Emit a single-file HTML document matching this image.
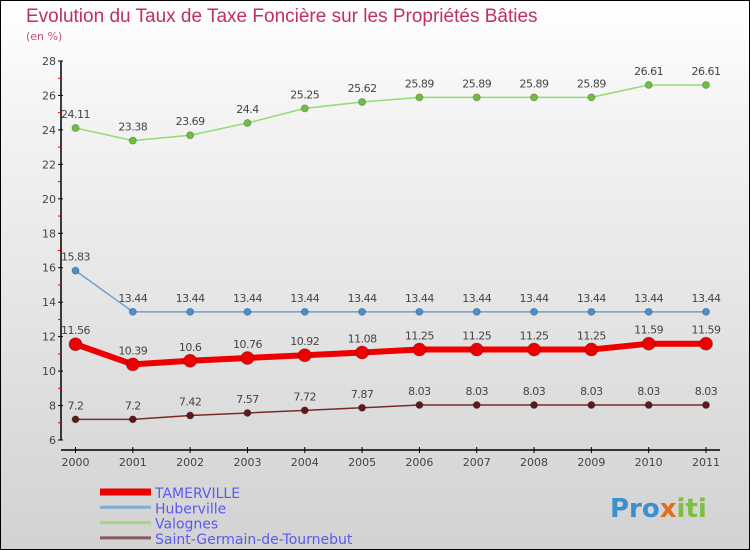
<!DOCTYPE html>
<html><head><meta charset="utf-8"><style>
body{margin:0}
#c{width:750px;height:550px;position:relative;box-sizing:border-box;border:1px solid #000;background:linear-gradient(#fff,#f4f4f4 20%,#d2d2d2);font-family:"DejaVu Sans","Liberation Sans",sans-serif;overflow:hidden}
</style></head><body>
<div id="c">
<svg id="s" width="750" height="550" style="position:absolute;left:-1px;top:-1px">
<text x="26" y="22" font-size="19" fill="#c0305a" font-family="Liberation Sans,sans-serif">Evolution du Taux de Taxe Foncière sur les Propriétés Bâties</text>
<text x="26" y="40" font-size="11" fill="#c0507a">(en %)</text>
<g id="g"></g>
<text x="610" y="517" font-size="26" font-weight="bold" fill="#3a8fd0">Pro<tspan fill="#e07020">x</tspan><tspan fill="#80c040">iti</tspan></text>
</svg>
</div>
<script>
const years=["2000","2001","2002","2003","2004","2005","2006","2007","2008","2009","2010","2011"];
const yTicks=[6,8,10,12,14,16,18,20,22,24,26,28];
const seriesNames=["TAMERVILLE","Huberville","Valognes","Saint-Germain-de-Tournebut"];
const tamerville=[11.56,10.39,10.6,10.76,10.92,11.08,11.25,11.25,11.25,11.25,11.59,11.59];
const huberville=[15.83,13.44,13.44,13.44,13.44,13.44,13.44,13.44,13.44,13.44,13.44,13.44];
const valognes=[24.11,23.38,23.69,24.4,25.25,25.62,25.89,25.89,25.89,25.89,26.61,26.61];
const saintGermain=[7.2,7.2,7.42,7.57,7.72,7.87,8.03,8.03,8.03,8.03,8.03,8.03];
const NS="http://www.w3.org/2000/svg",g=document.getElementById('g');
const X=i=>75.5+i*(706-75.5)/(years.length-1);
const Y=v=>440-(v-6)*(440-61)/22;
function el(t,a,txt){const e=document.createElementNS(NS,t);for(const k in a)e.setAttribute(k,a[k]);if(txt!==undefined)e.textContent=txt;g.appendChild(e);return e;}
let e=el('line',{x1:61,y1:61,x2:61,y2:440,stroke:'#000','stroke-width':1.5});


e=el('line',{x1:61,y1:450,x2:720,y2:450,stroke:'#000','stroke-width':1.5});


yTicks.forEach(v=>{
 el('line',{x1:58,y1:Y(v),x2:63,y2:Y(v),stroke:'#000'});
 if(v<28){el('line',{x1:58,y1:Y(v+1),x2:61,y2:Y(v+1),stroke:'#e00'});}
 const t=el('text',{x:56,y:Y(v)+4,'text-anchor':'end','font-size':11,fill:'#444'},v);
 
 
});
years.forEach((y,i)=>{
 el('line',{x1:X(i),y1:447,x2:X(i),y2:453,stroke:'#000'});
 const t=el('text',{x:X(i),y:466,'text-anchor':'middle','font-size':11,fill:'#444'},y);
 
 
});
const series=[[valognes,'#90dd70','#70c040',1.5,3.5],[huberville,'#70a0d0','#4a90d0',1.5,3.5],[saintGermain,'#7a2a2a','#601818',1.5,3.5],[tamerville,'#ee0000','#ee0000',6,6.5]];
series.forEach(([d,c,pc,w,r],si)=>{
 const p=el('polyline',{points:d.map((v,i)=>X(i)+','+Y(v)).join(' '),fill:'none',stroke:c,'stroke-width':w});
 
 
 d.forEach((v,i)=>{
  const cc=el('circle',{cx:X(i),cy:Y(v),r:r,fill:pc,stroke:'rgba(0,0,0,0.25)'});
  
  
  const t=el('text',{x:X(i),y:Y(v)-10,'text-anchor':'middle','font-size':11,fill:'#444','letter-spacing':'-0.5'},v);
  
  
 });
});
const lc=['#ee0000','#80aed0','#a0d880','#8a5a5a'],lw=[7,3,3,3];
seriesNames.forEach((n,i)=>{
 const y=492+i*15.3;
 const l=el('line',{x1:100,y1:y,x2:151,y2:y,stroke:lc[i],'stroke-width':lw[i]});
 
 
 const t=el('text',{x:155,y:y+6,'font-size':14,fill:'#5a5af0'},n);
 
 
});
</script>
</body></html>
